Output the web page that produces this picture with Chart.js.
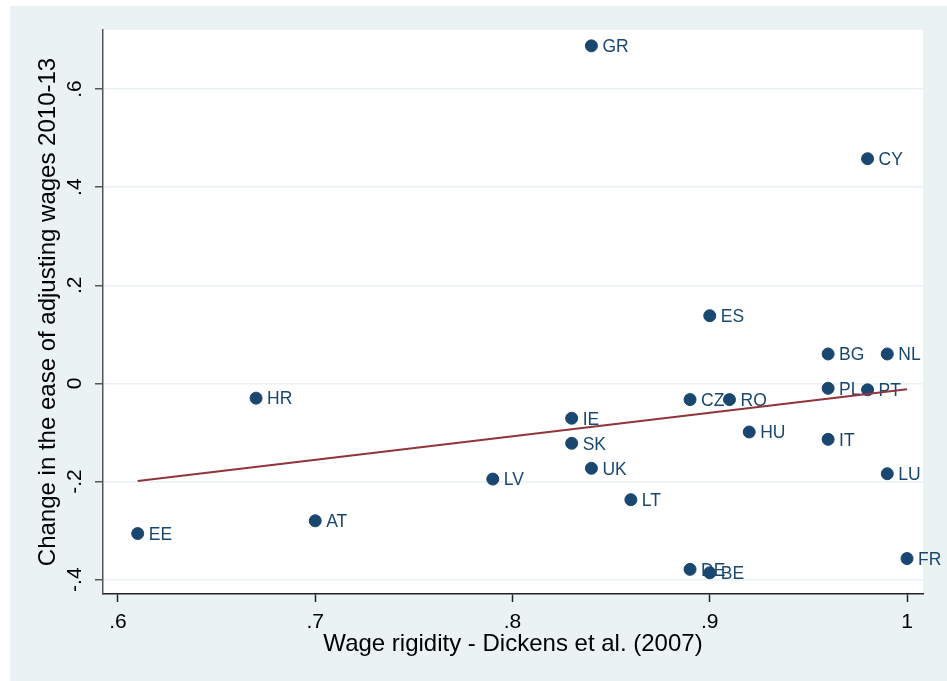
<!DOCTYPE html>
<html>
<head>
<meta charset="utf-8">
<script src="https://cdn.jsdelivr.net/npm/chart.js@4/dist/chart.umd.min.js"></script>
<style>
  body { margin: 0; background: #ffffff; }
  #wrap { position: absolute; left: 10px; top: 6px; width: 937px; height: 675px; }
</style>
</head>
<body>
<div id="wrap"><canvas id="scatterChart" width="937" height="675"></canvas></div>
<script>
// country codes and values
var countries = ["GR", "CY", "ES", "BG", "NL", "PL", "PT", "CZ", "RO", "HR", "IE", "SK",
                 "HU", "IT", "UK", "LV", "LU", "LT", "AT", "EE", "DE", "BE", "FR"];
var rigidity = [0.84, 0.98, 0.90, 0.96, 0.99, 0.96, 0.98, 0.89, 0.91, 0.67, 0.83, 0.83,
                0.92, 0.96, 0.84, 0.79, 0.99, 0.86, 0.70, 0.61, 0.89, 0.90, 1.00];
var wageChange = [0.688, 0.458, 0.138, 0.060, 0.060, -0.010, -0.013, -0.033, -0.033, -0.030, -0.071, -0.122,
                  -0.099, -0.114, -0.173, -0.195, -0.184, -0.237, -0.280, -0.306, -0.379, -0.386, -0.357];

// fitted line end points
var fitX = [0.61, 1.00];
var fitY = [-0.199, -0.012];

var xTicks = [0.6, 0.7, 0.8, 0.9, 1.0];
var yTicks = [-0.4, -0.2, 0, 0.2, 0.4, 0.6];

var markerColour = "#1a476f";
var fitColour = "#90353b";
var fontFamily = "'Liberation Sans', Arial, sans-serif";

function stataLabel(v){
    var s = (Math.round(v * 10) / 10).toString();
    return s.replace(/^(-?)0\./, "$1.");
}

var points = [];
for(var i=0; i<countries.length; i++){
    points.push({x: rigidity[i], y: wageChange[i]});
}
var fitPoints = [];
for(var i=0; i<fitX.length; i++){
    fitPoints.push({x: fitX[i], y: fitY[i]});
}

var backgroundPlugin = {
    id: "plotBackground",
    beforeDraw: function(chart){
        var ctx = chart.ctx, a = chart.chartArea;
        ctx.save();
        ctx.fillStyle = "#eaf2f3";
        ctx.fillRect(0, 0, chart.width, chart.height);
        ctx.fillStyle = "#ffffff";
        ctx.fillRect(a.left, a.top, a.right - a.left, a.bottom - a.top);
        ctx.restore();
    },
    afterDatasetDraw: function(chart, args){
        // country labels right of the markers, under the fit line
        if(args.index !== 0) return;
        var ctx = chart.ctx;
        var xs = chart.scales.x, ys = chart.scales.y;
        ctx.save();
        ctx.font = "17.5px " + fontFamily;
        ctx.fillStyle = markerColour;
        ctx.textAlign = "left";
        ctx.textBaseline = "middle";
        for(var i=0; i<countries.length; i++){
            var px = xs.getPixelForValue(rigidity[i]);
            var py = ys.getPixelForValue(wageChange[i]);
            ctx.fillText(countries[i], px + 11, py + 1.5);
        }
        ctx.restore();
    },
    afterDraw: function(chart){
        // vertical y tick labels
        var ctx = chart.ctx, ys = chart.scales.y;
        ctx.save();
        ctx.font = "21px " + fontFamily;
        ctx.fillStyle = "#000000";
        ctx.textAlign = "center";
        ctx.textBaseline = "middle";
        for(var i=0; i<yTicks.length; i++){
            var py = ys.getPixelForValue(yTicks[i]);
            ctx.save();
            ctx.translate(65.5, py);
            ctx.rotate(-Math.PI / 2);
            ctx.fillText(stataLabel(yTicks[i]), 0, 0);
            ctx.restore();
        }
        ctx.restore();
    }
};

Chart.defaults.font.family = fontFamily;

var scatterChart = new Chart("scatterChart", {
    type: "scatter",
    data: {
        datasets: [
            {
                label: "countries",
                data: points,
                backgroundColor: markerColour,
                borderColor: markerColour,
                pointRadius: 6,
                pointHoverRadius: 6,
                order: 2
            },
            {
                type: "line",
                label: "fit",
                data: fitPoints,
                borderColor: fitColour,
                borderWidth: 2,
                pointRadius: 0,
                fill: false,
                tension: 0,
                order: 1
            }
        ]
    },
    options: {
        responsive: false,
        animation: false,
        events: [],
        layout: { padding: { left: 0, top: 24, right: 24, bottom: 0 } },
        plugins: {
            legend: { display: false },
            tooltip: { enabled: false }
        },
        scales: {
            x: {
                type: "linear",
                min: 0.5924,
                max: 1.0081,
                afterBuildTicks: function(scale){
                    scale.ticks = xTicks.map(function(v){ return {value: v}; });
                },
                afterFit: function(scale){ scale.height = 87; },
                ticks: {
                    color: "#000000",
                    font: { size: 21 },
                    padding: 8,
                    maxRotation: 0,
                    callback: function(v){ return stataLabel(v); }
                },
                grid: {
                    drawOnChartArea: false,
                    drawTicks: true,
                    tickLength: 8,
                    tickColor: "#222222",
                    tickWidth: 1.5
                },
                border: { display: true, color: "#222222", width: 1.5 },
                title: {
                    display: true,
                    text: "Wage rigidity - Dickens et al. (2007)",
                    color: "#000000",
                    font: { size: 24 },
                    padding: { top: 0, bottom: 22 }
                }
            },
            y: {
                type: "linear",
                min: -0.4292,
                max: 0.7203,
                afterBuildTicks: function(scale){
                    scale.ticks = yTicks.map(function(v){ return {value: v}; });
                },
                afterFit: function(scale){ scale.width = 93; },
                ticks: { display: false },
                grid: {
                    color: "#eaf2f3",
                    lineWidth: 1.5,
                    drawTicks: true,
                    tickLength: 8,
                    tickColor: "#555555",
                    tickWidth: 1.5
                },
                border: { display: true, color: "#555555", width: 1.5 },
                title: {
                    display: true,
                    text: "Change in the ease of adjusting wages 2010-13",
                    color: "#000000",
                    font: { size: 24 },
                    padding: { top: 23.5, bottom: 0 }
                }
            }
        }
    },
    plugins: [backgroundPlugin]
});
</script>
</body>
</html>
